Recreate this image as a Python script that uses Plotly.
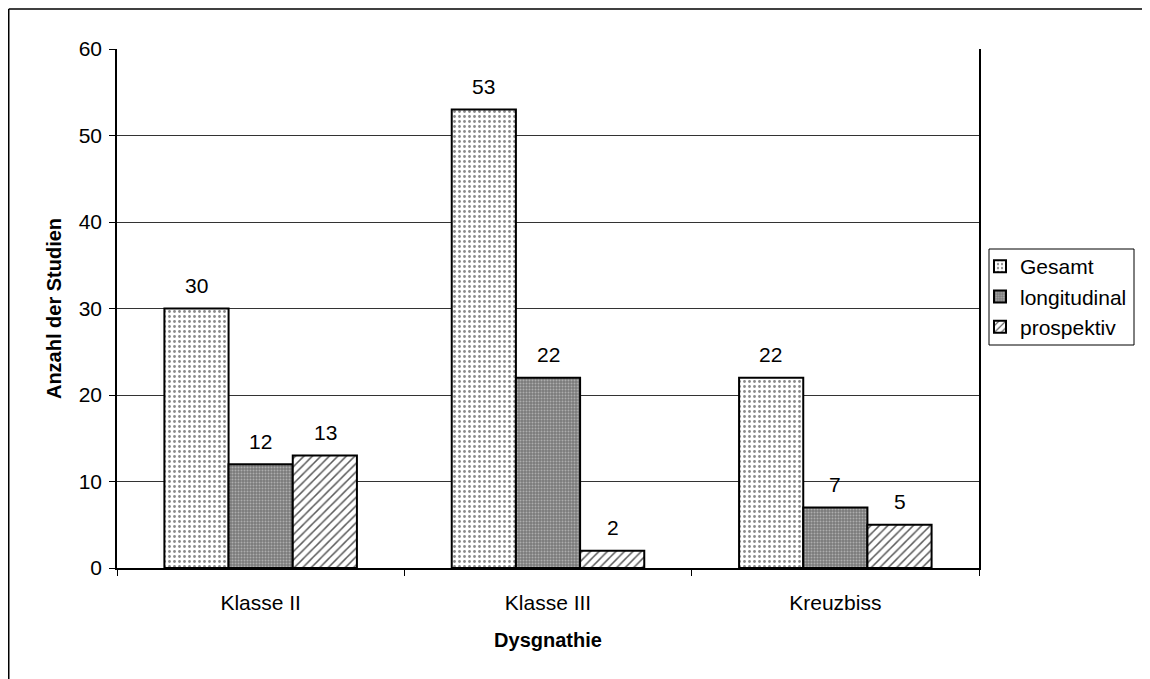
import plotly.graph_objects as go

categories = ["Klasse II", "Klasse III", "Kreuzbiss"]
series_names = ["Gesamt", "longitudinal", "prospektiv"]
gesamt = [30, 53, 22]
longitudinal = [12, 22, 7]
prospektiv = [13, 2, 5]
y_ticks = [0, 10, 20, 30, 40, 50, 60]

FONT = "Liberation Sans, Arial, sans-serif"

styles = [
    dict(bgcolor="#ffffff", fgcolor="#8a8a8a", shape=".", size=5, solidity=0.25),
    dict(bgcolor="#7a7a7a", fgcolor="#adadad", shape=".", size=3, solidity=0.35),
    dict(bgcolor="#ffffff", fgcolor="#5a5a5a", shape="/", size=6, solidity=0.25),
]

# plot-area geometry (figure pixels)
W, H = 1142, 671
L, T = 109, 41
PW, PH = 862, 519

def px_x(fx):
    return (fx - L) / PW

def px_y(fy):
    return (T + PH - fy) / PH

fig = go.Figure()
for name, vals, st in zip(series_names, [gesamt, longitudinal, prospektiv], styles):
    fig.add_trace(go.Bar(
        name=name, x=categories, y=vals, legendgroup=name,
        marker=dict(color=st["bgcolor"], line=dict(color="#000000", width=2),
                    pattern=dict(shape=st["shape"], fgcolor=st["fgcolor"], bgcolor=st["bgcolor"],
                                 size=st["size"], solidity=st["solidity"], fillmode="replace")),
    ))

# data labels
bar_w_px = 64.5
for i, vals in enumerate([gesamt, longitudinal, prospektiv]):
    for c, v in zip(categories, vals):
        fig.add_annotation(x=c, y=v, text=str(v), showarrow=False,
                           xshift=(i - 1) * bar_w_px, yshift=23, yanchor="middle",
                           font=dict(family=FONT, size=21, color="#000000"))

# outer chart border (top and left)
fig.add_shape(type="line", xref="paper", yref="paper", x0=px_x(0.75), x1=1.3, y0=px_y(1.0), y1=px_y(1.0),
              line=dict(color="#000000", width=1.5))
fig.add_shape(type="line", xref="paper", yref="paper", x0=px_x(0.75), x1=px_x(0.75), y0=px_y(1.0), y1=-0.3,
              line=dict(color="#000000", width=1.5))
# legend frame
fig.add_shape(type="rect", xref="paper", yref="paper", x0=px_x(981), x1=px_x(1126),
              y0=px_y(241), y1=px_y(337), line=dict(color="#000000", width=1))

fig.update_layout(
    width=W, height=H,
    margin=dict(l=L, r=W - L - PW, t=T, b=H - T - PH, autoexpand=False),
    paper_bgcolor="#ffffff", plot_bgcolor="#ffffff",
    barmode="group", bargap=0.33, bargroupgap=0,
    font=dict(family=FONT, size=21, color="#000000"),
    showlegend=True,
    legend=dict(xref="container", yref="container", x=972 / W, y=1 - 238 / H,
                xanchor="left", yanchor="top",
                borderwidth=0, bgcolor="rgba(0,0,0,0)",
                font=dict(family=FONT, size=21), tracegroupgap=0, itemwidth=30),
    xaxis=dict(title=dict(text="<b>Dysgnathie</b>", font=dict(size=20), standoff=20),
               showline=True, linecolor="#000000", linewidth=1.5,
               ticks="outside", tickson="boundaries", ticklen=6, tickcolor="#000000",
               ticklabelstandoff=15,
               showgrid=False, mirror=False),
    yaxis=dict(title=dict(text="<b>Anzahl der Studien</b>", font=dict(size=20), standoff=12),
               range=[0, 60], tickvals=y_ticks, showline=True, linecolor="#000000", linewidth=1.5,
               mirror=True, ticks="outside", ticklen=6, tickcolor="#000000",
               ticklabelstandoff=3,
               showgrid=True, gridcolor="#333333", gridwidth=1, zeroline=False),
)

fig.write_html("out.html")
